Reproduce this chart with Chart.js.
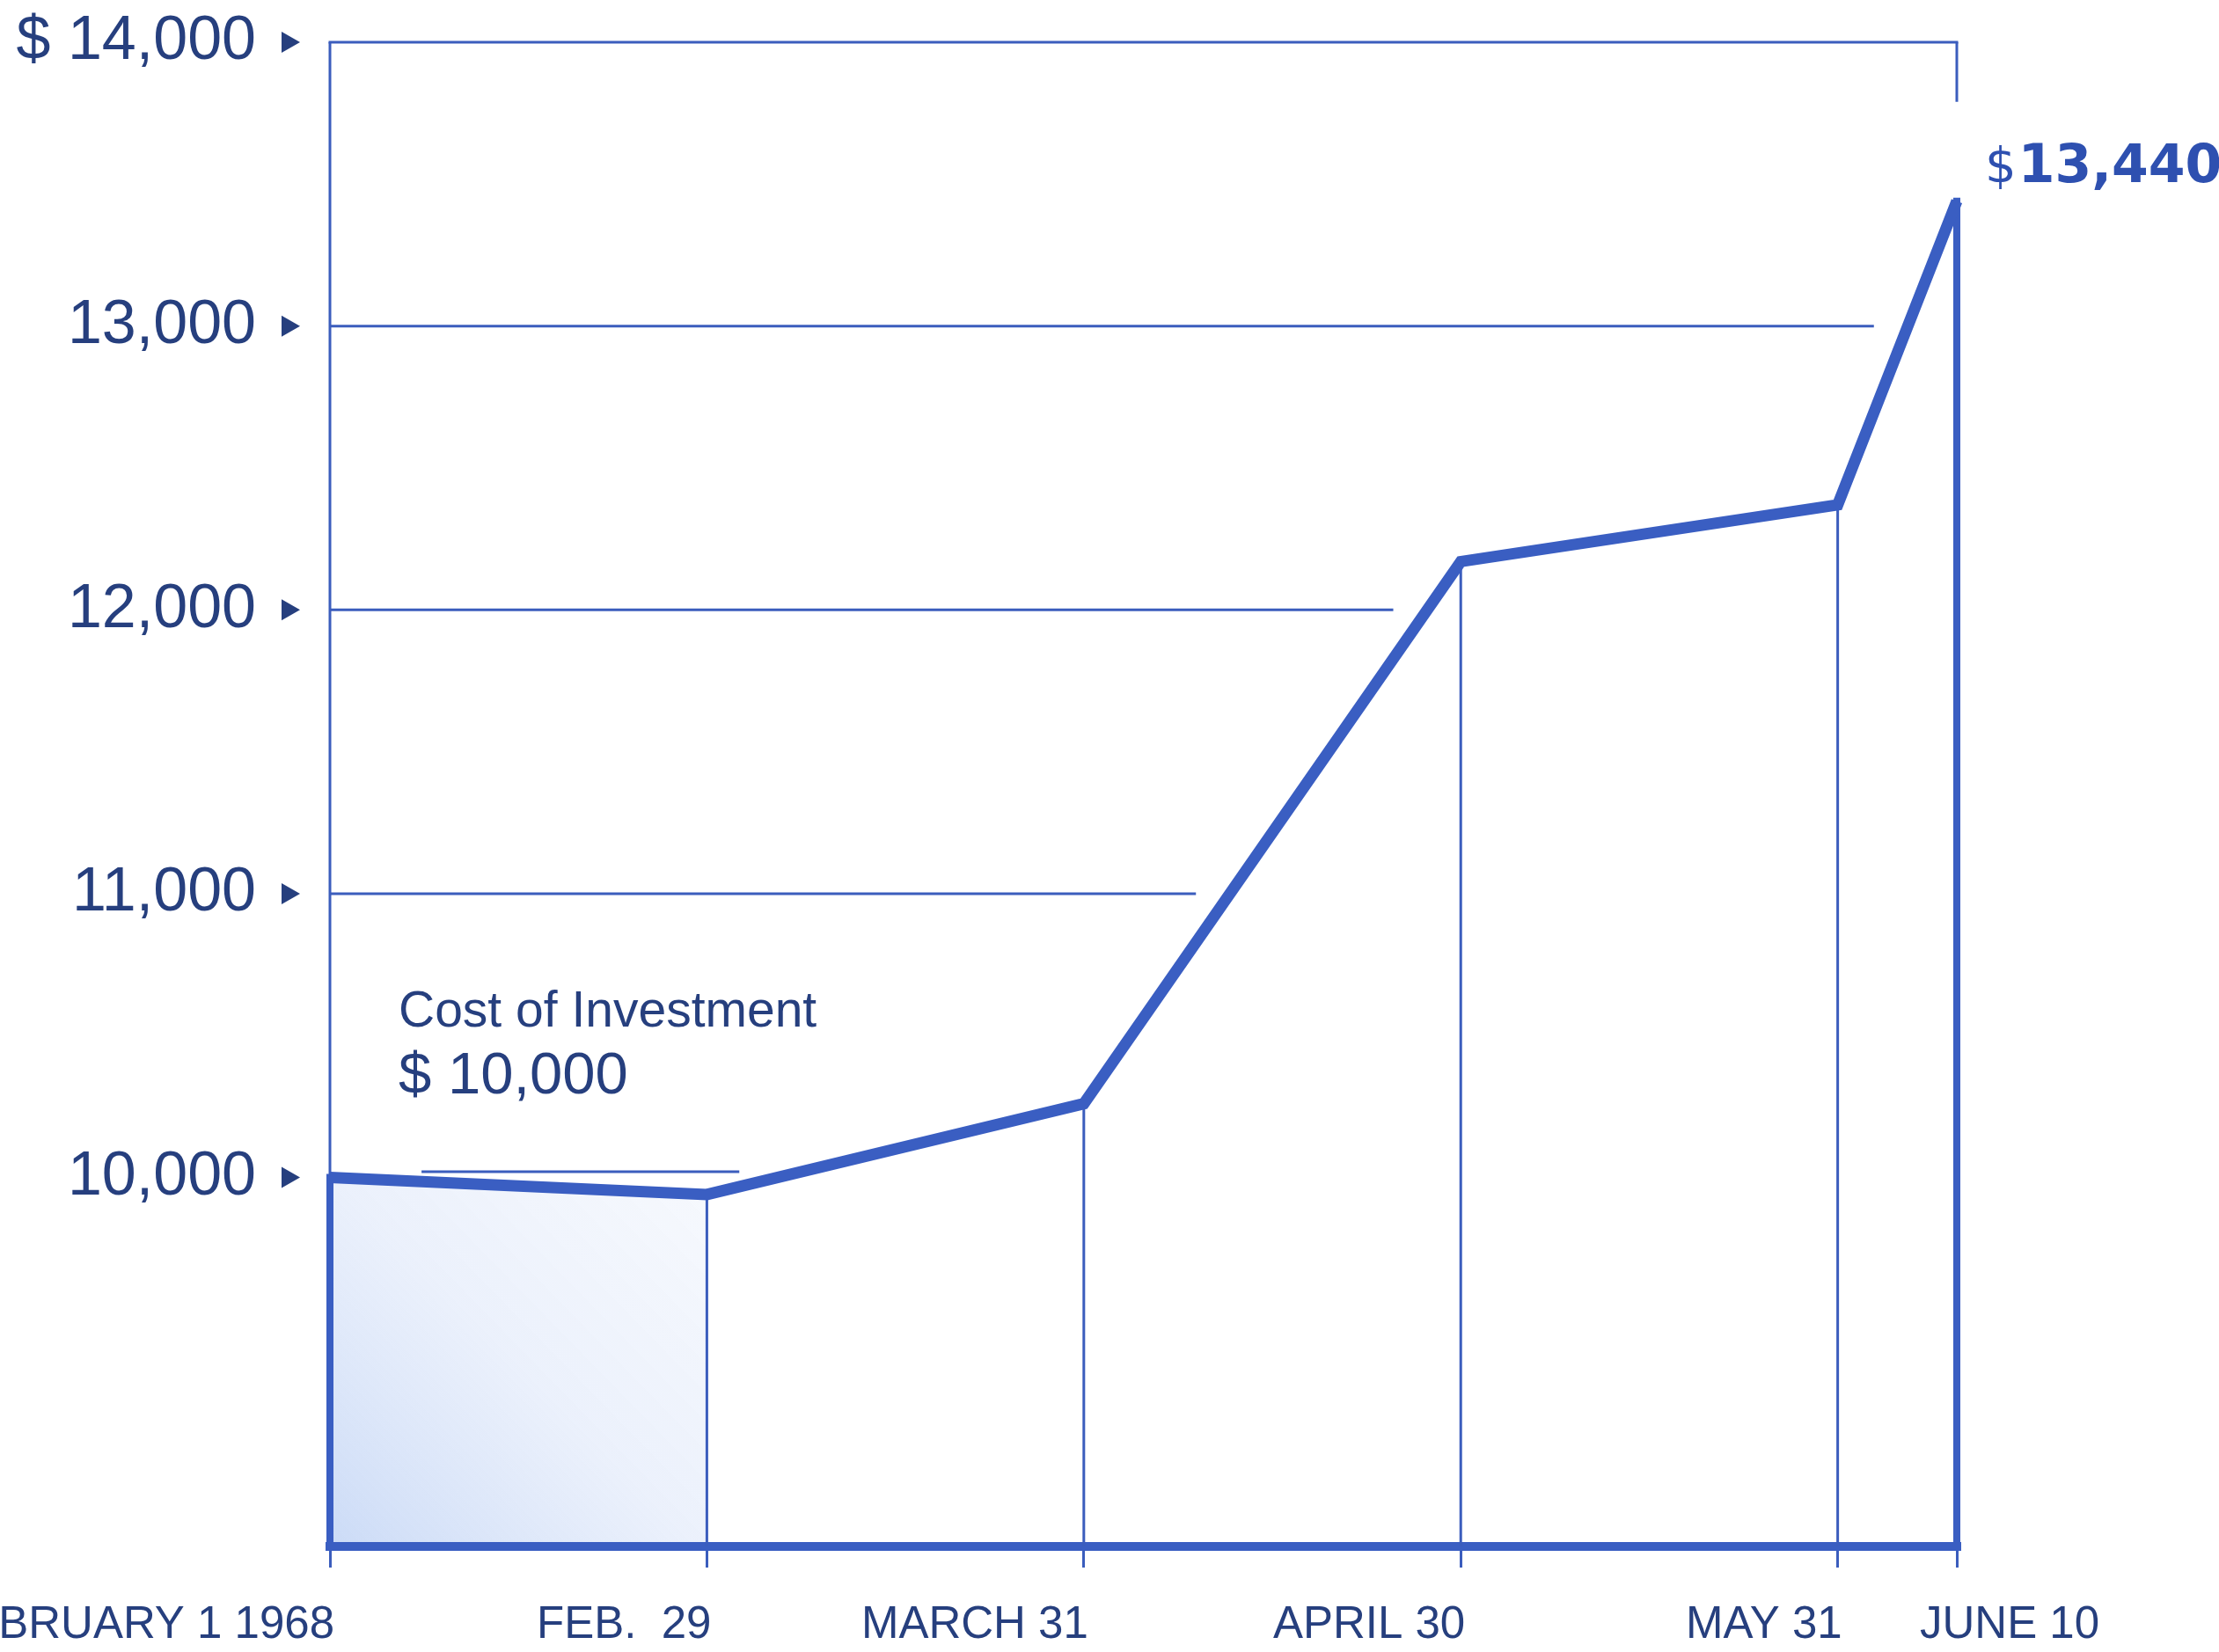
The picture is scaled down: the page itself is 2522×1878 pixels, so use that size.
<!DOCTYPE html>
<html>
<head>
<meta charset="utf-8">
<script src="https://cdn.jsdelivr.net/npm/chart.js@4.4.1/dist/chart.umd.min.js"></script>
<style>
  html, body { margin: 0; padding: 0; background: #ffffff; }
  #wrap { width: 2522px; height: 1878px; position: relative; }
  canvas { display: block; }
</style>
</head>
<body>
<div id="wrap"><canvas id="c" width="2522" height="1878"></canvas></div>
<script>
// ---------- DATA ----------
const dateLabels = ['FEBRUARY 1 1968', 'FEB.  29', 'MARCH 31', 'APRIL 30', 'MAY 31', 'JUNE 10'];
// position of each date on the chart's time axis, in months after Feb 1
const datePositions = [0, 1, 2, 3, 4, 4.316];
const portfolioValues = [10000, 9940, 10260, 12170, 12370, 13440];
const yTickValues = [10000, 11000, 12000, 13000, 14000];
const yTickLabels = ['10,000', '11,000', '12,000', '13,000', '$ 14,000'];
const gridLevels = [11000, 12000, 13000];
const costCaption = 'Cost of Investment';
const costAmount = '$ 10,000';
const costValue = 10000;
const costLineValue = 10020;
const costLineSpan = [0.243, 1.086];
const finalLabel = '13,440';
const Y_MIN = 8700;
const Y_MAX = 14000;
const borderStubEnd = 13790;

// ---------- STYLE ----------
const LINE = '#3a5ec2';
const THIN = '#3b5dbd';
const TEXT = '#263f7e';
const FONT = '"Liberation Sans", Arial, sans-serif';
const X_MAX = datePositions[datePositions.length - 1];

// where the value line crosses a level (used to stop grid lines short of it)
function crossing(level) {
  for (let i = 1; i < portfolioValues.length; i++) {
    const a = portfolioValues[i - 1], b = portfolioValues[i];
    if ((a - level) * (b - level) <= 0 && a !== b) {
      return datePositions[i - 1] + (level - a) / (b - a) * (datePositions[i] - datePositions[i - 1]);
    }
  }
  return X_MAX;
}

const lineBase = {
  pointRadius: 0, pointHoverRadius: 0, tension: 0, fill: false, clip: false,
  borderCapStyle: 'butt'
};
const seg = (x1, y1, x2, y2, width, color, cap) => ({
  ...lineBase,
  data: [{ x: x1, y: y1 }, { x: x2, y: y2 }],
  borderColor: color || THIN,
  borderWidth: width,
  borderCapStyle: cap || 'butt'
});

const datasets = [];
// main value line
datasets.push({
  ...lineBase,
  data: portfolioValues.map((v, i) => ({ x: datePositions[i], y: v })),
  borderColor: LINE,
  borderWidth: 13,
  borderJoinStyle: 'miter'
});
// drop lines from each point to the base
portfolioValues.forEach((v, i) => {
  const edge = i === 0 || i === portfolioValues.length - 1;
  datasets.push(seg(datePositions[i], v, datePositions[i], Y_MIN, edge ? 8 : 3, edge ? LINE : THIN, edge ? 'square' : 'butt'));
});
// base line
datasets.push(seg(0, Y_MIN, X_MAX, Y_MIN, 10, LINE, 'square'));
// left axis above the start value
datasets.push(seg(0, portfolioValues[0], 0, Y_MAX, 3));
// top border and right stub
datasets.push(seg(0, Y_MAX, X_MAX, Y_MAX, 3, THIN, 'square'));
datasets.push(seg(X_MAX, Y_MAX, X_MAX, borderStubEnd, 3));
// grid lines stopping short of the value line
gridLevels.forEach(level => datasets.push(seg(0, level, crossing(level) - 0.09, level, 3)));
// cost of investment line
datasets.push(seg(costLineSpan[0], costLineValue, costLineSpan[1], costLineValue, 3));
// shaded first period
datasets.push({
  ...lineBase,
  data: [{ x: datePositions[0], y: portfolioValues[0] }, { x: datePositions[1], y: portfolioValues[1] }],
  borderWidth: 0,
  borderColor: 'rgba(0,0,0,0)',
  fill: 'start',
  backgroundColor: (ctx) => {
    const a = ctx.chart.chartArea;
    if (!a) return 'rgba(170,195,240,0.3)';
    const g = ctx.chart.ctx.createLinearGradient(a.left, a.bottom, a.left + 430, a.bottom - 420);
    g.addColorStop(0, 'rgba(140,175,236,0.45)');
    g.addColorStop(0.5, 'rgba(190,208,244,0.3)');
    g.addColorStop(1, 'rgba(220,230,248,0.25)');
    return g;
  }
});

const annotate = {
  id: 'annotate',
  afterDraw(chart) {
    const { ctx } = chart;
    const x = chart.scales.x, y = chart.scales.y;
    ctx.save();
    // y-axis triangles
    ctx.fillStyle = TEXT;
    yTickValues.forEach(v => {
      const py = y.getPixelForValue(v);
      const tip = x.left - 34;
      ctx.beginPath();
      ctx.moveTo(tip, py);
      ctx.lineTo(tip - 21, py - 12);
      ctx.lineTo(tip - 21, py + 12);
      ctx.closePath();
      ctx.fill();
    });
    // x labels
    ctx.font = '51px ' + FONT;
    ctx.textBaseline = 'alphabetic';
    const base = chart.chartArea.bottom + 104;
    dateLabels.forEach((t, i) => {
      const px = x.getPixelForValue(datePositions[i]);
      const last = i === dateLabels.length - 1;
      ctx.textAlign = last ? 'left' : 'right';
      ctx.fillText(t, last ? px - 42 : px + 5, base);
    });
    // cost annotation
    ctx.textAlign = 'left';
    const cx = x.getPixelForValue(0) + 78;
    const cy = y.getPixelForValue(costValue);
    ctx.font = '57px ' + FONT;
    ctx.fillText(costCaption, cx, cy - 172);
    ctx.font = '67px ' + FONT;
    ctx.fillText(costAmount, cx, cy - 96);
    // final value label
    const meta = chart.getDatasetMeta(0);
    const pt = meta.data[meta.data.length - 1];
    ctx.fillStyle = '#2e50b0';
    ctx.font = '56px "DejaVu Sans", sans-serif';
    const lx = pt.x + 32, ly = pt.y - 22;
    ctx.fillText('$', lx, ly);
    const w = ctx.measureText('$').width;
    ctx.font = 'bold 60px "DejaVu Sans", sans-serif';
    ctx.fillText(finalLabel, lx + w + 2, ly);
    ctx.restore();
  }
};

Chart.defaults.font.family = FONT;

new Chart(document.getElementById('c'), {
  type: 'line',
  data: { datasets },
  plugins: [annotate],
  options: {
    responsive: false,
    devicePixelRatio: 1,
    animation: false,
    events: [],
    layout: { autoPadding: false, padding: { top: 48, right: 298, left: 0, bottom: 0 } },
    plugins: { legend: { display: false }, tooltip: { enabled: false } },
    scales: {
      x: {
        type: 'linear',
        min: 0,
        max: X_MAX,
        afterBuildTicks: s => { s.ticks = datePositions.map(v => ({ value: v })); },
        afterFit: s => { s.height = 120; s.paddingLeft = 0; s.paddingRight = 0; },
        grid: { display: true, drawOnChartArea: false, drawTicks: true, tickLength: 24, color: THIN, lineWidth: 3 },
        border: { display: false },
        ticks: { display: false }
      },
      y: {
        type: 'linear',
        min: Y_MIN,
        max: Y_MAX,
        afterBuildTicks: s => { s.ticks = yTickValues.map(v => ({ value: v })); },
        afterFit: s => { s.width = 375; s.paddingTop = 0; s.paddingBottom = 0; },
        grid: { display: false, drawTicks: false },
        border: { display: false },
        ticks: {
          padding: 84,
          color: TEXT,
          font: { size: 70 },
          callback: (v) => yTickLabels[yTickValues.indexOf(v)]
        }
      }
    }
  }
});
</script>
</body>
</html>
